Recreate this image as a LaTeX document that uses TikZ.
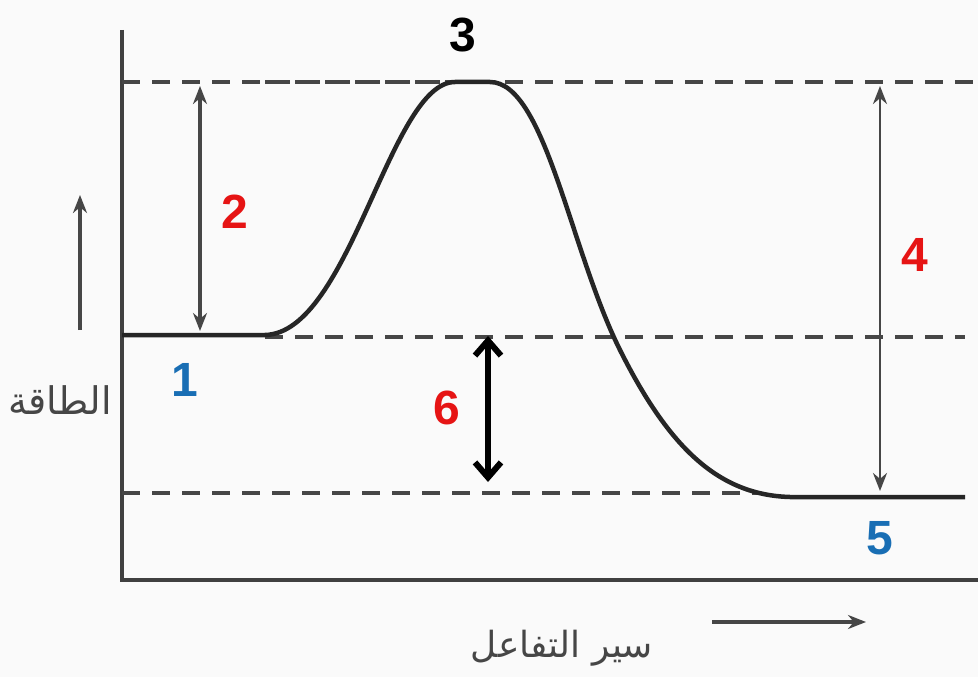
\documentclass[tikz,border=0pt]{standalone}
\usepackage{fontspec}
\setmainfont{Liberation Sans}
\newfontfamily\arabicfont[Script=Arabic]{DejaVu Sans}
\TeXXeTstate=1
\usetikzlibrary{arrows.meta}
\definecolor{lblred}{RGB}{230,20,20}
\definecolor{lblblue}{RGB}{25,110,180}
\definecolor{lvlgray}{RGB}{70,70,70}
\begin{document}
\begin{tikzpicture}[x=1pt,y=-1pt,
  lvl/.style={dashed,dash pattern=on 18pt off 12pt,line width=4pt,lvlgray},
  num/.style={font=\fontsize{48}{48}\selectfont\bfseries},
  gap/.style={line width=3.2pt,lvlgray,{Stealth[length=18pt,width=14pt]}-{Stealth[length=18pt,width=14pt]}}]
  \useasboundingbox[fill=gray!4] (0,0) rectangle (978,677);
  % axes
  \draw[line width=4.5pt,black!75] (122,30) -- (122,580) -- (978,580);
  % energy levels
  \draw[lvl] (265,82) -- (978,82);
  \draw[lvl] (122,82) -- (440,82);
  \draw[lvl] (265,337) -- (965,337);
  \draw[lvl] (122,493) -- (760,493);
  % reaction path
  \draw[line width=4.5pt,black!85] (122,335) -- (265,335)
    .. controls (350,333) and (390,82) .. (455,82) -- (490,82)
    .. controls (545,82) and (570,250) .. (620,350)
    .. controls (670,450) and (720,495) .. (790,497) -- (965,497);
  \coordinate (top2) at (200,86);
  \coordinate (bot2) at (200,331);
  \coordinate (top4) at (880,86);
  \coordinate (bot4) at (880,491);
  \coordinate (top6) at (488,336);
  \coordinate (bot6) at (488,482);
  \draw[gap] (top2) -- (bot2);
  \draw[gap,line width=2.8pt] (top4) -- (bot4);
  \draw[line width=6pt,{Straight Barb[length=15pt,width=26pt]}-{Straight Barb[length=15pt,width=26pt]}] (top6) -- (bot6);
  % labels
  \node[num] (n3) at (463,35) {3};
  \node[num,lblred] (n2) at (235,212) {2};
  \node[num,lblred] (n4) at (915,255) {4};
  \node[num,lblblue] (n1) at (185,380) {1};
  \node[num,lblred] (n6) at (447,408) {6};
  \node[num,lblblue] (n5) at (880,538) {5};
  % axis titles
  \coordinate (ya) at (80,330);
  \coordinate (yb) at (80,195);
  \draw[line width=3.2pt,lvlgray,-{Stealth[length=18pt,width=14pt]}] (ya) -- (yb);
  \node[lvlgray,font=\fontsize{38}{38}\selectfont\arabicfont] (ylab) at (60,400) {\beginR الطاقة\endR};
  \coordinate (xa) at (712,622);
  \coordinate (xb) at (866,622);
  \draw[line width=3.2pt,lvlgray,-{Stealth[length=18pt,width=14pt]}] (xa) -- (xb);
  \node[lvlgray,font=\fontsize{36}{36}\selectfont\arabicfont] (xlab) at (562,648) {\beginR سير التفاعل\endR};
\end{tikzpicture}
\end{document}
